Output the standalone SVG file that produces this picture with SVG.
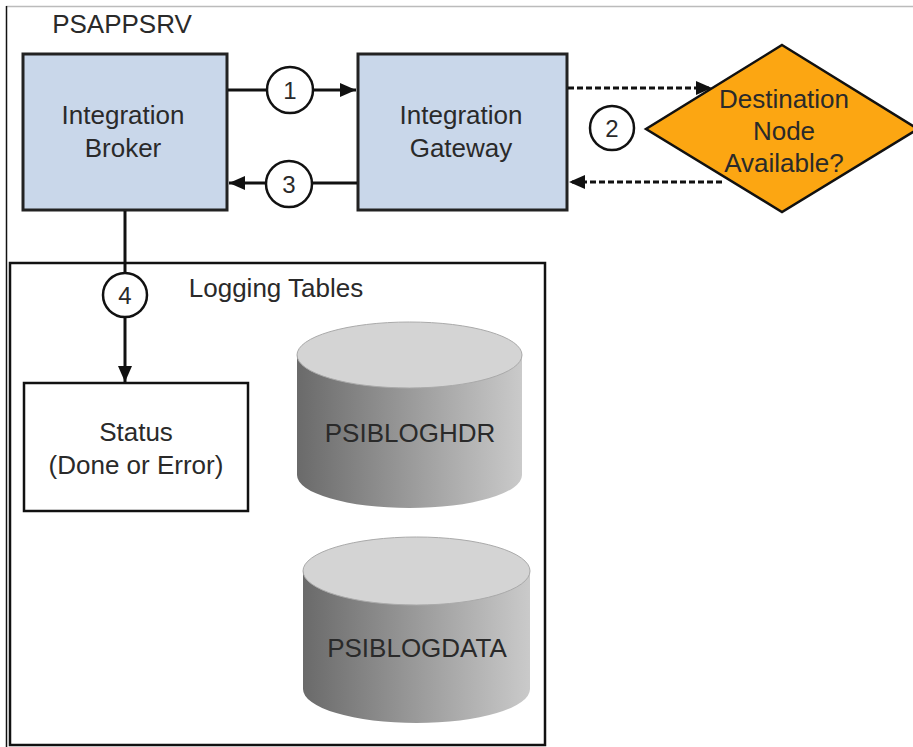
<svg xmlns="http://www.w3.org/2000/svg" width="913" height="747" viewBox="0 0 913 747">
<defs>
<style>
text{font-family:"Liberation Sans",Arial,sans-serif;fill:#2a2a2a;text-anchor:middle}
.lbl{font-size:26px}
.num{font-size:24px}
.box{fill:#c9d7ea;stroke:#222;stroke-width:3}
.circ{fill:#fff;stroke:#111;stroke-width:2.5}
.ln{stroke:#111;stroke-width:3;fill:none}
.dash{stroke:#111;stroke-width:3;fill:none;stroke-dasharray:6 3}
</style>
<marker id="ah" viewBox="0 0 16 14" refX="16" refY="7" markerWidth="16" markerHeight="14" markerUnits="userSpaceOnUse" orient="auto">
<path d="M0,0 L16,7 L0,14 z" fill="#111"/>
</marker>
<linearGradient id="cyl" x1="0" y1="0" x2="1" y2="0">
<stop offset="0" stop-color="#6a6a6a"/>
<stop offset="1" stop-color="#cacaca"/>
</linearGradient>
</defs>
<g id="frame">
<line x1="6" y1="6.5" x2="913" y2="6.5" stroke="#bbb" stroke-width="1.5"/>
<line x1="6.5" y1="6" x2="6.5" y2="747" stroke="#111" stroke-width="1.5"/>
</g>
<text x="122" y="33" class="lbl">PSAPPSRV</text>
<g id="logging">
<rect x="10" y="263" width="535" height="482" fill="#fff" stroke="#111" stroke-width="2.5"/>
<text x="276" y="297" class="lbl">Logging Tables</text>
</g>
<g id="broker">
<rect x="23" y="54" width="204" height="156" class="box"/>
<text x="123" y="124" class="lbl">Integration</text>
<text x="123" y="157" class="lbl">Broker</text>
</g>
<g id="gateway">
<rect x="358" y="54" width="209" height="156" class="box"/>
<text x="461" y="124" class="lbl">Integration</text>
<text x="461" y="157" class="lbl">Gateway</text>
</g>
<g id="decision">
<polygon points="782,45 918,129 782,212 646,129" fill="#fca612" stroke="#111" stroke-width="2.5"/>
<text x="784" y="108" class="lbl">Destination</text>
<text x="784" y="140" class="lbl">Node</text>
<text x="784" y="172" class="lbl">Available?</text>
</g>
<g id="status">
<rect x="24" y="383" width="224" height="128" fill="#fff" stroke="#111" stroke-width="2.5"/>
<text x="136" y="441" class="lbl">Status</text>
<text x="136" y="474" class="lbl">(Done or Error)</text>
</g>
<g id="psibloghdr">
<path d="M297,355 L297,475 A112.5,33 0 0 0 522,475 L522,355 Z" fill="url(#cyl)"/>
<ellipse cx="409.5" cy="355" rx="112.5" ry="33" fill="#d4d4d4" stroke="#aaa" stroke-width="1"/>
<text x="410" y="442" class="lbl">PSIBLOGHDR</text>
</g>
<g id="psiblogdata">
<path d="M303,571 L303,689 A113.5,34 0 0 0 530,689 L530,571 Z" fill="url(#cyl)"/>
<ellipse cx="416.5" cy="571" rx="113.5" ry="34" fill="#d4d4d4" stroke="#aaa" stroke-width="1"/>
<text x="417" y="657" class="lbl">PSIBLOGDATA</text>
</g>
<g id="connectors">
<line x1="228" y1="90" x2="356" y2="90" class="ln" marker-end="url(#ah)"/>
<line x1="357" y1="183" x2="229" y2="183" class="ln" marker-end="url(#ah)"/>
<line x1="568" y1="88" x2="712" y2="88" class="dash" marker-end="url(#ah)"/>
<line x1="722" y1="182" x2="569" y2="182" class="dash" marker-end="url(#ah)"/>
<line x1="125" y1="211" x2="125" y2="382" class="ln" marker-end="url(#ah)"/>
</g>
<g id="step1"><circle cx="290" cy="90" r="23" class="circ"/><text x="290" y="99" class="num">1</text></g>
<g id="step3"><circle cx="289" cy="184" r="23" class="circ"/><text x="289" y="193" class="num">3</text></g>
<g id="step2"><circle cx="612" cy="128" r="22" class="circ"/><text x="612" y="137" class="num">2</text></g>
<g id="step4"><circle cx="125" cy="295" r="22" class="circ"/><text x="125" y="304" class="num">4</text></g>
</svg>
